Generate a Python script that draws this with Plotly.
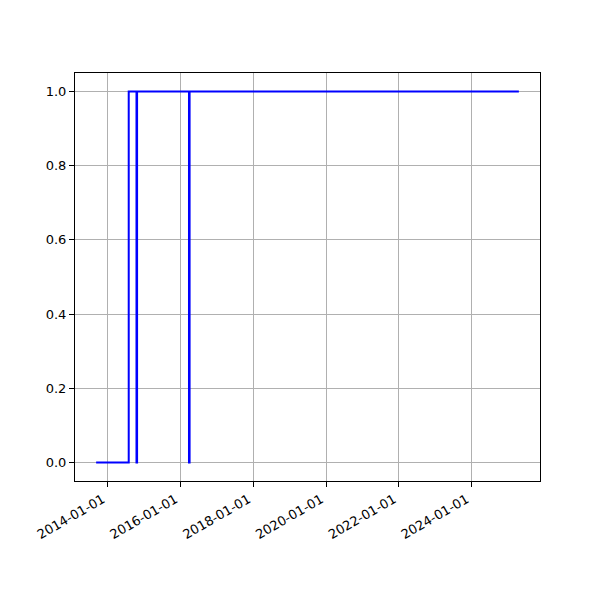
import plotly.graph_objects as go
import pandas as pd

dates = ["2013-09-06", "2014-07-30", "2014-10-16", "2014-10-22",
         "2016-03-26", "2016-04-01", "2025-04-19"]
values = [0, 1, 0, 1, 0, 1, 1]

d = pd.to_datetime(dates)
span = d.max() - d.min()
xr = [d.min() - span * 0.05, d.max() + span * 0.05]

fig = go.Figure()
fig.add_trace(go.Scatter(x=d, y=values, mode="lines", line_shape="hv",
                         line=dict(color="#0000ff", width=2), showlegend=False))

axis_common = dict(showline=True, linecolor="black", linewidth=1, mirror=True,
                   ticks="outside", ticklen=5, tickcolor="black", automargin=False,
                   showgrid=True, gridcolor="#b0b0b0", gridwidth=1, zeroline=False,
                   tickfont=dict(family="DejaVu Sans", size=13, color="black"))

fig.update_xaxes(range=xr, type="date", tick0="2014-01-01", dtick="M24",
                 tickformat="%Y-%m-%d", tickangle=-30, ticklabelshift=-5, **axis_common)
fig.update_yaxes(range=[-0.05, 1.05], tickvals=[0, 0.2, 0.4, 0.6, 0.8, 1.0],
                 tickformat=".1f", **axis_common)

fig.update_layout(width=600, height=600, plot_bgcolor="white", paper_bgcolor="white",
                  margin=dict(l=67, r=68, t=65, b=127),
                  font=dict(family="DejaVu Sans", size=13, color="black"))

fig.write_html("out.html")
